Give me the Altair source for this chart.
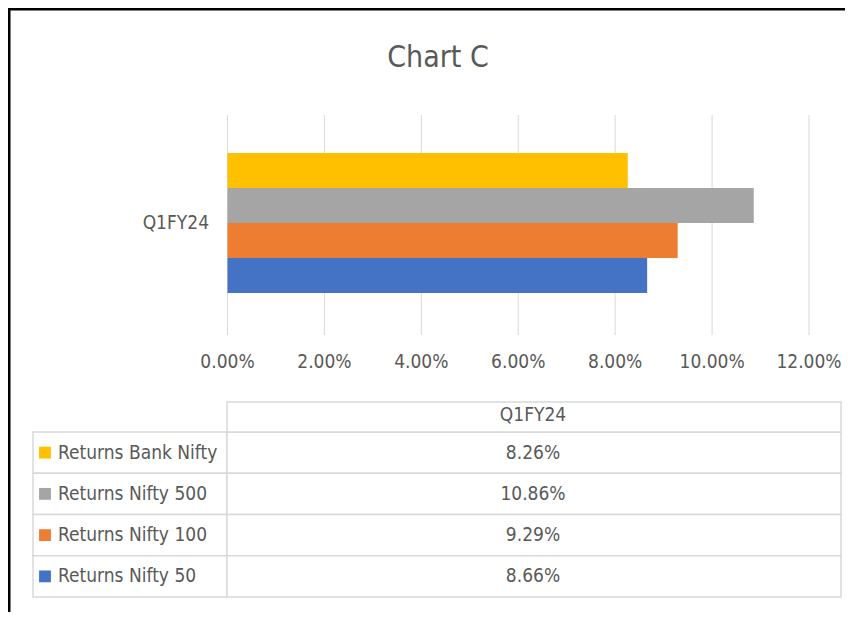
import altair as alt
import pandas as pd

# ---- data ----
title_text = "Chart C"
category = "Q1FY24"
series = ["Returns Bank Nifty", "Returns Nifty 500", "Returns Nifty 100", "Returns Nifty 50"]
values = [0.0826, 0.1086, 0.0929, 0.0866]
colors = ["#FFC000", "#A5A5A5", "#ED7D31", "#4472C4"]
ticks = [0.0, 0.02, 0.04, 0.06, 0.08, 0.10, 0.12]

FONT = "Liberation Sans Narrow, DejaVu Sans Condensed, Open Sans, sans-serif"
TXT = "#595959"
LINE = "#D9D9D9"
W, H = 837, 604

df = pd.DataFrame({"series": series, "value": values, "cat": category})
tick_df = pd.DataFrame({"tick": ticks})
one = pd.DataFrame({"t": [title_text], "cat": [category]})

xscale = alt.Scale(domain=[0, 0.12], range=[219.5, 801])
color = alt.Color("series:N", scale=alt.Scale(domain=series, range=colors), legend=None)
ybar = alt.Y("series:N", sort=series, axis=None,
             scale=alt.Scale(domain=series, range=[145, 285], paddingInner=0, paddingOuter=0))
ytab = alt.Y("series:N", sort=series, axis=None,
             scale=alt.Scale(domain=series, range=[424, 589], paddingInner=0, paddingOuter=0))

# gridlines
grid = alt.Chart(tick_df).mark_rule(color=LINE, strokeWidth=1).encode(
    x=alt.X("tick:Q", scale=xscale, axis=None),
    y=alt.value(107), y2=alt.value(327))

# bars
bars = alt.Chart(df).mark_bar().encode(
    x=alt.X("value:Q", scale=xscale, axis=None),
    y=ybar, color=color)

# tick labels
tick_labels = alt.Chart(tick_df).mark_text(font=FONT, fontSize=19, color=TXT, baseline="middle").encode(
    x=alt.X("tick:Q", scale=xscale, axis=None),
    y=alt.value(354),
    text=alt.Text("tick:Q", format=".2%"))

# category label
cat_label = alt.Chart(one).mark_text(font=FONT, fontSize=19, color=TXT, align="right", baseline="middle").encode(
    x=alt.value(201),
    y=alt.Y("cat:N", axis=None, scale=alt.Scale(domain=[category], range=[145, 285], paddingInner=0, paddingOuter=0)),
    text="cat:N")

# title
title = alt.Chart(one).mark_text(font=FONT, fontSize=30, color=TXT, baseline="middle").encode(
    x=alt.value(430), y=alt.value(50), text="t:N")

# table cells
label_cells = alt.Chart(df).mark_rect(fill="white", stroke=LINE, strokeWidth=1.5).encode(
    x=alt.value(25), x2=alt.value(219), y=ytab)
value_cells = alt.Chart(df).mark_rect(fill="white", stroke=LINE, strokeWidth=1.5).encode(
    x=alt.value(219), x2=alt.value(833), y=ytab)
header_cell = alt.Chart(one).mark_rect(fill="white", stroke=LINE, strokeWidth=1.5).encode(
    x=alt.value(219), x2=alt.value(833), y=alt.value(394), y2=alt.value(424))
header_text = alt.Chart(one).mark_text(font=FONT, fontSize=19, color=TXT, baseline="middle").encode(
    x=alt.value(525), y=alt.value(407), text="cat:N")
keys = alt.Chart(df).mark_square(size=140, opacity=1).encode(
    x=alt.value(37), y=ytab, color=color)
row_labels = alt.Chart(df).mark_text(font=FONT, fontSize=19, color=TXT, align="left", baseline="middle").encode(
    x=alt.value(50), y=ytab, text="series:N")
row_values = alt.Chart(df).mark_text(font=FONT, fontSize=19, color=TXT, baseline="middle").encode(
    x=alt.value(525), y=ytab, text=alt.Text("value:Q", format=".2%"))

# outer frame (top and left edges visible in the reference)
frame_left = alt.Chart(one).mark_rule(color="black", strokeWidth=3).encode(
    x=alt.value(1), y=alt.value(0), y2=alt.value(H))
frame_top = alt.Chart(one).mark_rule(color="black", strokeWidth=3).encode(
    y=alt.value(1), x=alt.value(0), x2=alt.value(W))

chart = alt.layer(
    grid, bars, tick_labels, cat_label, title,
    label_cells, value_cells, header_cell, header_text, keys, row_labels, row_values,
    frame_left, frame_top,
).resolve_scale(y="independent").properties(
    width=W, height=H,
    autosize=alt.AutoSizeParams(type="none"),
    padding=0,
    background="white",
).configure_view(stroke=None)

chart.save("out.html", embed_options={"renderer": "svg", "actions": False})
